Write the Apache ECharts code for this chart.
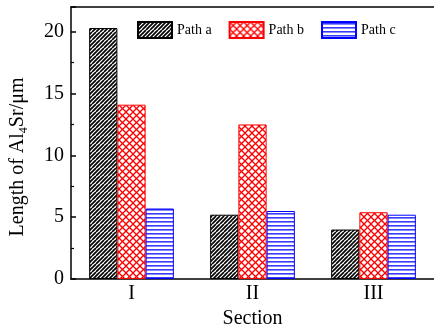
<!DOCTYPE html>
<html>
<head>
<meta charset="utf-8">
<script src="https://cdn.jsdelivr.net/npm/echarts@6/dist/echarts.min.js"></script>
<style>
  html, body { margin: 0; padding: 0; background: #fff; }
  #chart { width: 434px; height: 334px; }
</style>
</head>
<body>
<div id="chart"></div>
<script>
const sections = ['I', 'II', 'III'];
const pathNames = ['Path a', 'Path b', 'Path c'];
const pathA = [20.3, 5.2, 4.0];
const pathB = [14.1, 12.5, 5.4];
const pathC = [5.7, 5.5, 5.2];
const yTicks = { min: 0, max: 22, interval: 5 };

const FONT = "'Liberation Serif', 'Times New Roman', serif";

// hatch fills drawn on small canvases
function diagPattern() {
  const c = document.createElement('canvas');
  c.width = 8; c.height = 8;
  const g = c.getContext('2d');
  g.fillStyle = '#fff'; g.fillRect(0, 0, 8, 8);
  g.strokeStyle = '#000'; g.lineWidth = 1.7;
  for (let off = -8; off <= 8; off += 4) {
    g.beginPath(); g.moveTo(off, 8); g.lineTo(off + 8, 0); g.stroke();
  }
  return { image: c, repeat: 'repeat' };
}
function crossPattern() {
  const c = document.createElement('canvas');
  c.width = 7; c.height = 7;
  const g = c.getContext('2d');
  g.fillStyle = '#fff'; g.fillRect(0, 0, 7, 7);
  g.strokeStyle = '#ff0000'; g.lineWidth = 1.3;
  for (let off = -7; off <= 7; off += 7) {
    g.beginPath(); g.moveTo(off, 7); g.lineTo(off + 7, 0); g.stroke();
    g.beginPath(); g.moveTo(off, 0); g.lineTo(off + 7, 7); g.stroke();
  }
  return { image: c, repeat: 'repeat' };
}
function hLinePattern() {
  const c = document.createElement('canvas');
  c.width = 4; c.height = 4;
  const g = c.getContext('2d');
  g.fillStyle = '#fff'; g.fillRect(0, 0, 4, 4);
  g.fillStyle = '#3a3aff'; g.fillRect(0, 1, 4, 1.6);
  return { image: c, repeat: 'repeat' };
}

const chart = echarts.init(document.getElementById('chart'), null, { renderer: 'canvas' });

const axisLine = { lineStyle: { color: '#000', width: 1.5 } };

chart.setOption({
  animation: false,
  backgroundColor: '#fff',
  textStyle: { fontFamily: FONT, color: '#000' },
  legend: {
    data: pathNames,
    left: 137, top: 21, padding: 0,
    itemWidth: 34, itemHeight: 16, itemGap: 17,
    icon: 'rect',
    textStyle: { fontFamily: FONT, fontSize: 14, color: '#000' }
  },
  grid: { left: 67, right: -4, top: 7, bottom: 54 },
  xAxis: [
    {
      type: 'category', data: sections, position: 'bottom',
      name: 'Section', nameLocation: 'middle', nameGap: 30,
      nameTextStyle: { fontFamily: FONT, fontSize: 20, color: '#000' },
      axisLine: axisLine,
      axisTick: { inside: true, alignWithLabel: true, length: 5, lineStyle: { color: '#000', width: 1.5 } },
      axisLabel: { fontFamily: FONT, fontSize: 20, color: '#000', margin: 5 },
      splitLine: { show: false }
    },
    {
      type: 'category', data: sections, position: 'bottom',
      axisLine: { show: false },
      axisTick: { inside: true, length: 2, lineStyle: { color: '#000', width: 1.2 } },
      axisLabel: { show: false }, splitLine: { show: false }
    },
    {
      type: 'category', data: sections, position: 'top',
      axisLine: axisLine, axisTick: { show: false },
      axisLabel: { show: false }, splitLine: { show: false }
    }
  ],
  yAxis: {
    type: 'value', min: yTicks.min, max: yTicks.max, interval: yTicks.interval,
    name: 'Length of Al{sub|4}Sr/μm', nameLocation: 'middle', nameGap: 41,
    nameTextStyle: {
      fontFamily: FONT, fontSize: 20, color: '#000', padding: [0, 28, 0, 0],
      rich: { sub: { fontFamily: FONT, fontSize: 12, verticalAlign: 'bottom', padding: [12, 0, 0, 0] } }
    },
    axisLine: { show: true, lineStyle: { color: '#000', width: 1.5 } },
    axisTick: { show: true, inside: true, length: 5, lineStyle: { color: '#000', width: 1.5 } },
    minorTick: { show: true, splitNumber: 2, length: 3, lineStyle: { color: '#000', width: 1.2 } },
    axisLabel: { fontFamily: FONT, fontSize: 20, color: '#000', margin: 7, showMaxLabel: false },
    splitLine: { show: false }
  },
  series: [
    {
      name: 'Path a', type: 'bar', data: pathA, barGap: '0%', barCategoryGap: '30%',
      itemStyle: { color: diagPattern(), borderColor: '#000', borderWidth: 1 }
    },
    {
      name: 'Path b', type: 'bar', data: pathB, barGap: '0%', barCategoryGap: '30%',
      itemStyle: { color: crossPattern(), borderColor: '#ff0000', borderWidth: 1 }
    },
    {
      name: 'Path c', type: 'bar', data: pathC, barGap: '0%', barCategoryGap: '30%',
      itemStyle: { color: hLinePattern(), borderColor: '#0000ff', borderWidth: 1 }
    }
  ]
});
</script>
</body>
</html>
